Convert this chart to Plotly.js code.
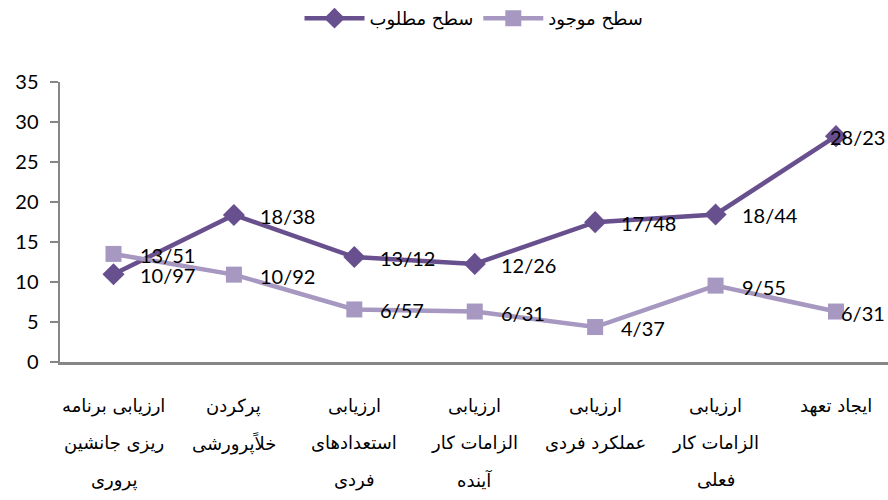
<!DOCTYPE html>
<html><head><meta charset="utf-8">
<script src="https://cdn.plot.ly/plotly-3.0.1.min.js"></script>
<style>html,body{margin:0;padding:0;background:#fff}#chart{width:888px;height:500px}</style>
</head><body><div id="chart"></div>
<script>
const categories = [
  "ارزیابی برنامه ریزی جانشین پروری",
  "پرکردن خلاًپرورشی",
  "ارزیابی استعدادهای فردی",
  "ارزیابی الزامات کار آینده",
  "ارزیابی عملکرد فردی",
  "ارزیابی الزامات کار فعلی",
  "ایجاد تعهد"
];
const categoryLines = [
  ["ارزیابی برنامه", "ریزی جانشین", "پروری"],
  ["پرکردن", "خلاًپرورشی"],
  ["ارزیابی", "استعدادهای", "فردی"],
  ["ارزیابی", "الزامات کار", "آینده"],
  ["ارزیابی", "عملکرد فردی"],
  ["ارزیابی", "الزامات کار", "فعلی"],
  ["ایجاد تعهد"]
];
const seriesNames = ["سطح مطلوب", "سطح موجود"];
const desired = [10.97, 18.38, 13.12, 12.26, 17.48, 18.44, 28.23];
const existing = [13.51, 10.92, 6.57, 6.31, 4.37, 9.55, 6.31];
const yTicks = [0, 5, 10, 15, 20, 25, 30, 35];

const darkColor = "#684F8E";
const lightColor = "#A698C1";
const numFont = "Lato, 'Liberation Sans', sans-serif";
const faFont = "'DejaVu Sans', 'Liberation Sans', sans-serif";

const fmt = v => v.toFixed(2).replace(".", "/");

const traces = [
  {x: categories, y: desired, name: seriesNames[0], type: "scatter", mode: "lines+markers",
   line: {color: darkColor, width: 4.5}, marker: {symbol: "diamond", size: 17, color: darkColor}},
  {x: categories, y: existing, name: seriesNames[1], type: "scatter", mode: "lines+markers",
   line: {color: lightColor, width: 4.5}, marker: {symbol: "square", size: 16, color: lightColor}}
];

const annotations = [];
[desired, existing].forEach(series => {
  series.forEach((v, i) => {
    const last = i === series.length - 1;
    annotations.push({
      x: last ? 1 : categories[i], xref: last ? "paper" : "x",
      y: v, yref: "y",
      text: fmt(v), showarrow: false,
      xanchor: last ? "right" : "left", xshift: last ? -1 : 24, yshift: -1,
      font: {family: numFont, size: 20, color: "#000"}
    });
  });
});
categoryLines.forEach((lines, i) => {
  lines.forEach((t, j) => {
    annotations.push({
      x: categories[i], xref: "x", y: 0, yref: "paper",
      text: t, showarrow: false, yanchor: "top", yshift: -31 - 37 * j,
      font: {family: faFont, size: 18, color: "#000"}
    });
  });
});

const layout = {
  width: 888, height: 500,
  margin: {l: 60, r: 0, t: 82, b: 138},
  paper_bgcolor: "#fff", plot_bgcolor: "#fff",
  showlegend: true,
  legend: {orientation: "h", x: 0.5, xanchor: "center", y: 1, yref: "container", yanchor: "top",
           font: {family: faFont, size: 18, color: "#000"}, itemwidth: 60, tracegroupgap: 0},
  xaxis: {type: "category", showticklabels: false, ticks: "", showgrid: false,
          showline: true, linecolor: "#868686", linewidth: 2.5, zeroline: false, fixedrange: true},
  yaxis: {range: [0, 35], tickvals: yTicks, ticktext: yTicks.map(String), showgrid: false, zeroline: false,
          showline: true, linecolor: "#868686", linewidth: 2.5,
          ticks: "outside", ticklen: 8, tickwidth: 2, tickcolor: "#868686", ticklabelstandoff: 7,
          tickfont: {family: numFont, size: 20, color: "#000"}},
  annotations: annotations
};

Plotly.newPlot("chart", traces, layout, {displayModeBar: false, staticPlot: true});
</script></body></html>
